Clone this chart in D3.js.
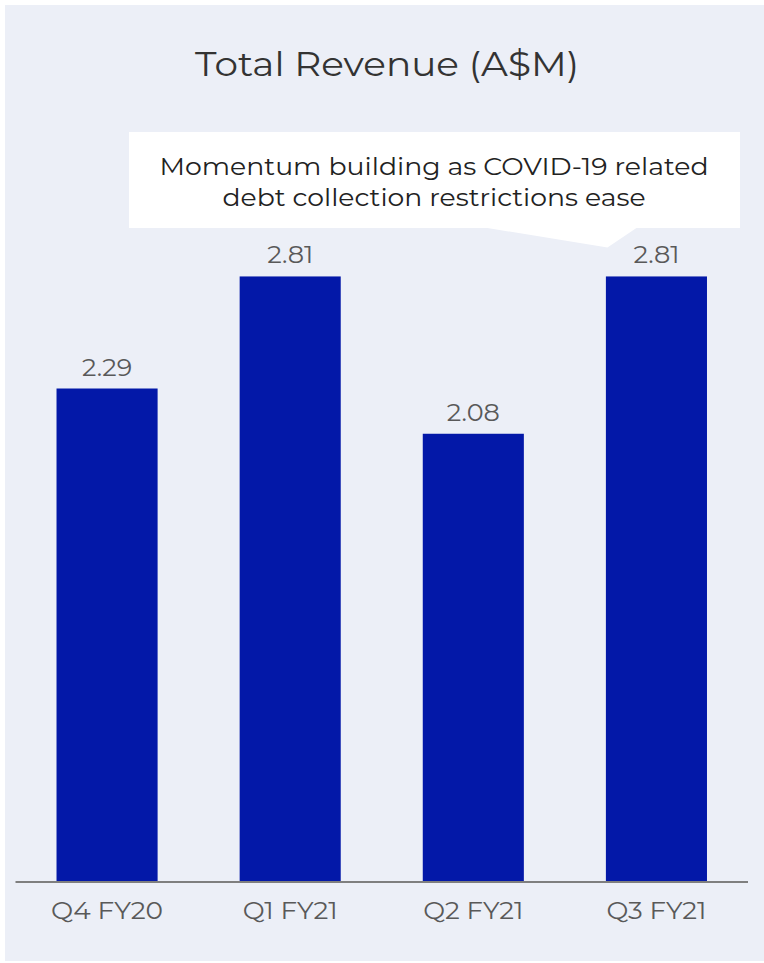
<!DOCTYPE html>
<html>
<head>
<meta charset="utf-8">
<title>Total Revenue (A$M)</title>
<style>
  body { margin: 0; background: #ffffff; }
  text { font-family: "Montserrat", "DejaVu Sans", "Noto Sans", sans-serif; }
</style>
</head>
<body>
<script src="https://cdn.jsdelivr.net/npm/d3@7"></script>
<script>
// chart data
var title = "Total Revenue (A$M)";
var categories = ["Q4 FY20", "Q1 FY21", "Q2 FY21", "Q3 FY21"];
var revenue = [2.29, 2.81, 2.08, 2.81];
var calloutLines = ["Momentum building as COVID-19 related", "debt collection restrictions ease"];

// measured text widths (Montserrat in the original, no such font here)
var catWidths = [112, 95, 100, 100];
var valWidths = [50, 46, 53, 46];
var lineWidths = [549, 423];

var W = 764, H = 963;

var svg = d3.select("body").append("svg")
  .attr("width", W)
  .attr("height", H);

// panel background
svg.append("rect")
  .attr("x", 5).attr("y", 5)
  .attr("width", W - 5).attr("height", 956)
  .attr("fill", "#eceff7");

// scales
var x = d3.scaleBand()
  .domain(categories)
  .range([15.5, 748])
  .paddingInner(0.448)
  .paddingOuter(0.224);

var baseY = 882;
var y = d3.scaleLinear()
  .domain([0, 3])
  .range([baseY, baseY - 646.5]);

// title
svg.append("text")
  .attr("x", 387).attr("y", 76)
  .attr("text-anchor", "middle")
  .attr("font-size", 34)
  .attr("fill", "#333333")
  .attr("textLength", 384)
  .attr("lengthAdjust", "spacingAndGlyphs")
  .text(title);

// bars
svg.selectAll("rect.bar")
  .data(revenue)
  .enter()
  .append("rect")
  .attr("class", "bar")
  .attr("x", function(d, i) { return x(categories[i]); })
  .attr("y", function(d) { return y(d); })
  .attr("width", x.bandwidth())
  .attr("height", function(d) { return baseY - y(d); })
  .attr("fill", "#0318a8");

// value labels
svg.selectAll("text.val")
  .data(revenue)
  .enter()
  .append("text")
  .attr("class", "val")
  .attr("x", function(d, i) { return x(categories[i]) + x.bandwidth() / 2; })
  .attr("y", function(d) { return y(d) - 13; })
  .attr("text-anchor", "middle")
  .attr("font-size", 25)
  .attr("fill", "#595959")
  .attr("textLength", function(d, i) { return valWidths[i]; })
  .attr("lengthAdjust", "spacingAndGlyphs")
  .text(function(d) { return d.toFixed(2); });

// x axis
var xAxis = svg.append("g")
  .attr("transform", "translate(0," + baseY + ")")
  .call(d3.axisBottom(x).tickSize(0).tickPadding(20));
xAxis.select(".domain")
  .attr("d", "M15.5,0H748")
  .attr("stroke", "#7f7f7f")
  .attr("stroke-width", 2);
xAxis.selectAll(".tick text")
  .attr("font-size", 24)
  .attr("font-family", null)
  .attr("fill", "#595959")
  .attr("dy", "0.71em")
  .attr("textLength", function(d, i) { return catWidths[i]; })
  .attr("lengthAdjust", "spacingAndGlyphs");

// callout box with pointer to last bar
var last = categories[categories.length - 1];
var tipX = x(last) + x.bandwidth() / 2 - 49;
var tipY = y(revenue[revenue.length - 1]) - 29;
var box = { x0: 129, x1: 740, y0: 132, y1: 228 };
var callout = d3.path();
callout.moveTo(box.x0, box.y0);
callout.lineTo(box.x1, box.y0);
callout.lineTo(box.x1, box.y1);
callout.lineTo(tipX + 29, box.y1);
callout.lineTo(tipX, tipY);
callout.lineTo(tipX - 120, box.y1);
callout.lineTo(box.x0, box.y1);
callout.closePath();
svg.append("path")
  .attr("d", callout.toString())
  .attr("fill", "#ffffff");

svg.selectAll("text.callout")
  .data(calloutLines)
  .enter()
  .append("text")
  .attr("class", "callout")
  .attr("x", 434)
  .attr("y", function(d, i) { return 175 + i * 31; })
  .attr("text-anchor", "middle")
  .attr("font-size", 25)
  .attr("fill", "#222222")
  .attr("textLength", function(d, i) { return lineWidths[i]; })
  .attr("lengthAdjust", "spacingAndGlyphs")
  .text(function(d) { return d; });
</script>
</body>
</html>
